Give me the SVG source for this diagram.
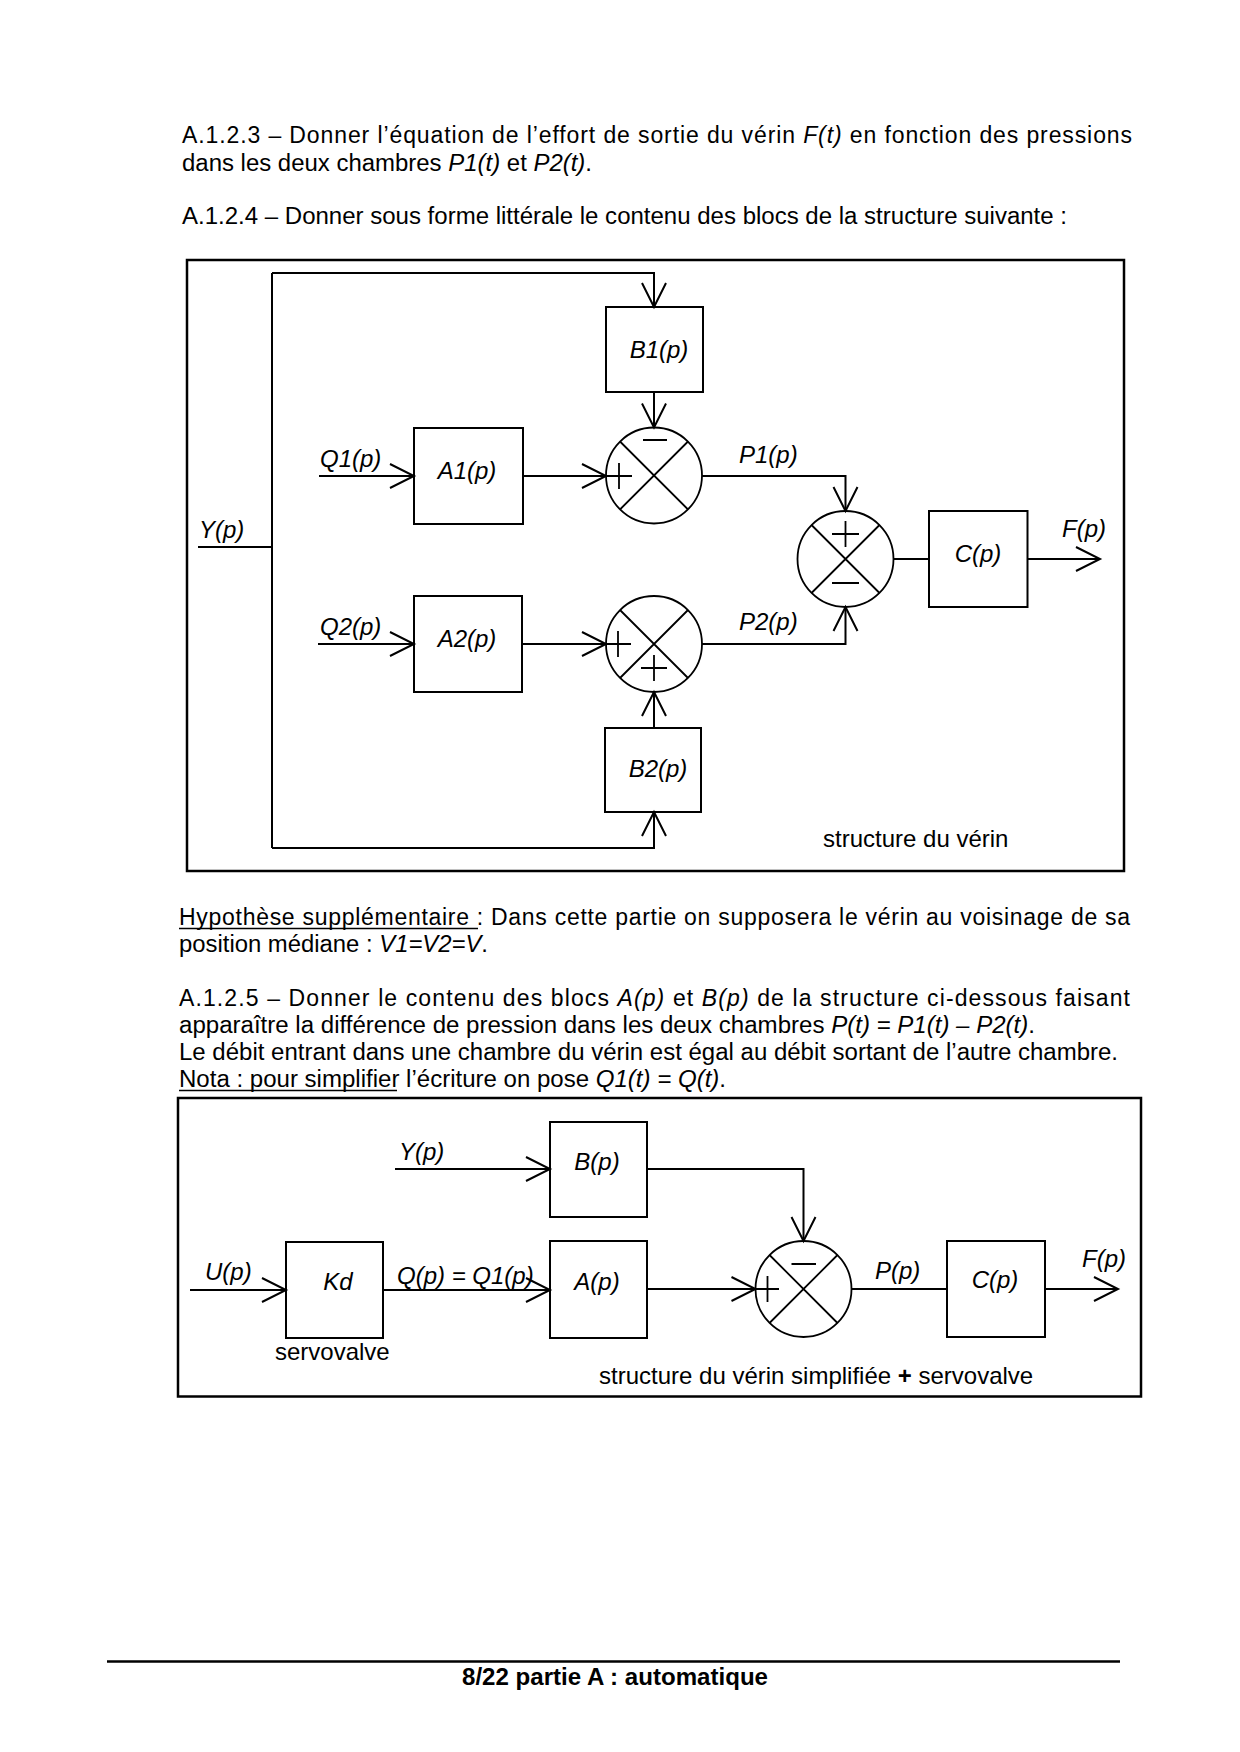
<svg xmlns="http://www.w3.org/2000/svg" width="1240" height="1752" viewBox="0 0 1240 1752">
<defs>
<marker id="arr" markerUnits="userSpaceOnUse" markerWidth="28" markerHeight="28" viewBox="-26 -14 28 28" refX="0" refY="0" orient="auto" overflow="visible">
<path d="M-24,-12 L0,0 L-24,12" fill="none" stroke="#000" stroke-width="2"/>
</marker>
<style>
text{font-family:"Liberation Sans",Arial,sans-serif;fill:#000}
.body{font-size:23px}
.lbl{font-size:24px;font-style:italic}
.plain{font-size:24px}
.mid{text-anchor:middle}
.it{font-style:italic}
.box{fill:#fff;stroke:#000;stroke-width:2}
.sum{fill:#fff;stroke:#000;stroke-width:1.8}
.sgn{fill:none;stroke:#000;stroke-width:1.8}
.frame{fill:none;stroke:#000;stroke-width:2.5}
.conn path{fill:none;stroke:#000;stroke-width:2}
.ar{marker-end:url(#arr)}
</style>
</defs>
<rect x="0" y="0" width="1240" height="1752" fill="#fff"/>

<g id="text-top">
<text class="body" x="182" y="143" textLength="950" lengthAdjust="spacing">A.1.2.3 – Donner l’équation de l’effort de sortie du vérin <tspan class="it">F(t)</tspan> en fonction des pressions</text>
<text class="body" x="182" y="171" textLength="410" lengthAdjust="spacingAndGlyphs">dans les deux chambres <tspan class="it">P1(t)</tspan> et <tspan class="it">P2(t)</tspan>.</text>
<text class="body" x="182" y="224" textLength="885" lengthAdjust="spacingAndGlyphs">A.1.2.4 – Donner sous forme littérale le contenu des blocs de la structure suivante :</text>
</g>

<g id="diagram1">
<rect id="frame1" class="frame" x="187" y="260" width="937" height="611"/>
<g id="node-B1"><rect class="box" x="606" y="307" width="97" height="85"/><text class="lbl mid" x="659" y="358">B1(p)</text></g>
<g id="node-A1"><rect class="box" x="414" y="428" width="109" height="96"/><text class="lbl mid" x="467" y="479">A1(p)</text></g>
<g id="node-A2"><rect class="box" x="414" y="596" width="108" height="96"/><text class="lbl mid" x="467" y="647">A2(p)</text></g>
<g id="node-B2"><rect class="box" x="605" y="728" width="96" height="84"/><text class="lbl mid" x="658" y="777">B2(p)</text></g>
<g id="node-C1"><rect class="box" x="929" y="511" width="98.5" height="96"/><text class="lbl mid" x="978" y="562">C(p)</text></g>
<g id="sum1"><circle class="sum" cx="654" cy="475.5" r="48"/><path class="sgn" d="M620,441.5 L688,509.5 M688,441.5 L620,509.5"/><path class="sgn" d="M643,440 H667 M606,476 H632 M619,463 V489"/></g>
<g id="sum2"><circle class="sum" cx="654" cy="644" r="48"/><path class="sgn" d="M620,610 L688,678 M688,610 L620,678"/><path class="sgn" d="M606,644 H631 M618,631 V657 M654,655 V681 M641,668 H667"/></g>
<g id="sum3"><circle class="sum" cx="845.5" cy="559" r="48"/><path class="sgn" d="M811.5,525 L879.5,593 M879.5,525 L811.5,593"/><path class="sgn" d="M832,534 H859 M845.5,521 V547 M832,583 H859"/></g>
<g id="labels1">
<text class="lbl" x="199" y="538">Y(p)</text>
<text class="lbl" x="320" y="467">Q1(p)</text>
<text class="lbl" x="320" y="635">Q2(p)</text>
<text class="lbl" x="739" y="463">P1(p)</text>
<text class="lbl" x="739" y="630">P2(p)</text>
<text class="lbl mid" x="1084" y="537">F(p)</text>
<text class="plain" x="823" y="847">structure du vérin</text>
</g>
<g id="connectors1" class="conn">
<path d="M198,547 H272 M272,273 V848"/>
<path class="ar" d="M272,273 H654 V307"/>
<path class="ar" d="M272,848 H654 V812"/>
<path class="ar" d="M654,392 V427.5"/>
<path class="ar" d="M319,476 H414"/>
<path class="ar" d="M523,476 H606"/>
<path class="ar" d="M702,476 H845.5 V511"/>
<path d="M893.5,559 H929"/>
<path class="ar" d="M1027.5,559 H1100"/>
<path class="ar" d="M318,644 H414"/>
<path class="ar" d="M522,644 H606"/>
<path class="ar" d="M702,644 H845.5 V607"/>
<path class="ar" d="M654,728 V692"/>
</g>
</g>

<g id="text-mid">
<text class="body" x="179" y="925" textLength="951" lengthAdjust="spacing">Hypothèse supplémentaire : Dans cette partie on supposera le vérin au voisinage de sa</text>
<path d="M179,928.5 H478" stroke="#000" stroke-width="1.5"/>
<text class="body" x="179" y="952" textLength="309" lengthAdjust="spacingAndGlyphs">position médiane : <tspan class="it">V1=V2=V</tspan>.</text>
<text class="body" x="179" y="1006" textLength="951" lengthAdjust="spacing">A.1.2.5 – Donner le contenu des blocs <tspan class="it">A(p)</tspan> et <tspan class="it">B(p)</tspan> de la structure ci-dessous faisant</text>
<text class="body" x="179" y="1033" textLength="856" lengthAdjust="spacingAndGlyphs">apparaître la différence de pression dans les deux chambres <tspan class="it">P(t) = P1(t) – P2(t)</tspan>.</text>
<text class="body" x="179" y="1060" textLength="939" lengthAdjust="spacingAndGlyphs">Le débit entrant dans une chambre du vérin est égal au débit sortant de l’autre chambre.</text>
<text class="body" x="179" y="1087" textLength="547" lengthAdjust="spacingAndGlyphs">Nota : pour simplifier l’écriture on pose <tspan class="it">Q1(t) = Q(t)</tspan>.</text>
<path d="M179,1090.5 H397" stroke="#000" stroke-width="1.5"/>
</g>

<g id="diagram2">
<rect id="frame2" class="frame" x="178" y="1098" width="963" height="298.5"/>
<g id="node-B"><rect class="box" x="550" y="1122" width="97" height="95"/><text class="lbl mid" x="597" y="1170">B(p)</text></g>
<g id="node-A"><rect class="box" x="550" y="1241" width="97" height="97"/><text class="lbl mid" x="597" y="1290">A(p)</text></g>
<g id="node-Kd"><rect class="box" x="286" y="1242" width="97" height="96"/><text class="lbl mid" x="338" y="1290">Kd</text></g>
<g id="sum4"><circle class="sum" cx="803.5" cy="1289" r="48"/><path class="sgn" d="M769.5,1255 L837.5,1323 M837.5,1255 L769.5,1323"/><path class="sgn" d="M791.5,1264 H816 M756,1289 H779 M767.5,1276 V1302"/></g>
<g id="node-C2"><rect class="box" x="947" y="1241" width="98" height="96"/><text class="lbl mid" x="995" y="1288">C(p)</text></g>
<g id="labels2">
<text class="lbl" x="399" y="1160">Y(p)</text>
<text class="lbl" x="205" y="1280">U(p)</text>
<text class="lbl" x="397" y="1284">Q(p) = Q1(p)</text>
<text class="plain" x="275" y="1360">servovalve</text>
<text class="lbl" x="875" y="1279">P(p)</text>
<text class="lbl" x="1082" y="1267">F(p)</text>
<text class="plain" x="599" y="1384">structure du vérin simplifiée <tspan font-weight="bold">+</tspan> servovalve</text>
</g>
<g id="connectors2" class="conn">
<path class="ar" d="M395,1169 H550"/>
<path class="ar" d="M647,1169 H803.5 V1241"/>
<path class="ar" d="M190,1290 H286"/>
<path class="ar" d="M383,1290 H550"/>
<path class="ar" d="M647,1289 H755.5"/>
<path d="M851.5,1289 H947"/>
<path class="ar" d="M1045,1289 H1118"/>
</g>
</g>

<g id="footer">
<path d="M107,1661.5 H1120" stroke="#000" stroke-width="2.5"/>
<text x="615" y="1685" font-size="23" font-weight="bold" text-anchor="middle" textLength="306" lengthAdjust="spacingAndGlyphs">8/22 partie A : automatique</text>
</g>
</svg>
